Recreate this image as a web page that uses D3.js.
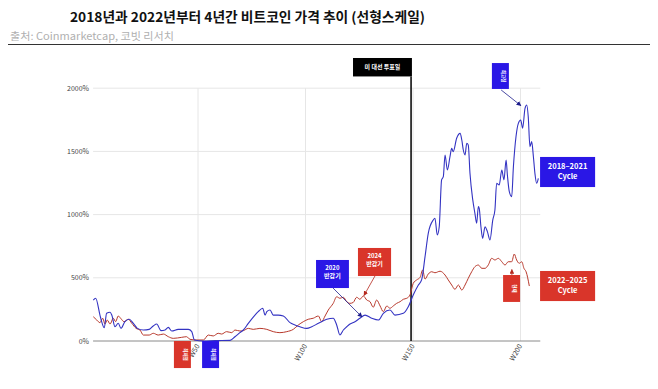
<!DOCTYPE html>
<html>
<head>
<meta charset="utf-8">
<script src="https://cdn.jsdelivr.net/npm/d3@7"></script>
<style>
  html,body{margin:0;padding:0;background:#fff;}
  svg text{font-family:"Noto Sans CJK KR","Noto Sans",Arial,sans-serif;}
</style>
</head>
<body>
<div id="chart"></div>
<script>
// weeks since cycle low reference (W), price change in %
const yTicks = [0, 500, 1000, 1500, 2000];
const xTicks = [50, 100, 150, 200];

// 2018-2021 cycle (blue)
const cycle2018 = [
  [1.3,324],[2.4,338],[4.4,205],[5.2,153],[6.4,105],[7.5,219],[9.1,227],[9.9,205],[11.4,113],[12.9,140],
  [14.2,100],[16,153],[18,172],[19.9,140],[21.8,100],[24.6,87],[27.3,92],[29.2,119],[30.8,134],[32.8,82],
  [34.7,87],[36.2,108],[37.8,79],[40.8,92],[45.5,92],[47.1,74],[48.3,8],[52.5,0],[58,3],[64.9,5],
  [67.2,34],[69.5,66],[71.1,87],[73.4,140],[76.5,205],[78,232],[80.1,259],[81.2,205],[82,232],[83.5,245],
  [85,205],[87.3,205],[89.7,198],[92.8,145],[95.1,127],[97.4,113],[100.6,100],[102.9,113],[106,140],[109.9,172],
  [112.9,180],[114.5,127],[116,47],[117.6,87],[119.2,113],[120.7,134],[123,153],[125.3,180],[127.7,205],[130.8,180],
  [133.9,166],[136.2,219],[139.3,245],[141.6,205],[145.5,219],[147.8,271],[150.1,364],[152.5,443],[154,483],[155.6,667],
  [157.1,852],[159.4,957],[160.2,971],[161.3,839],[162.2,904],[163.3,1274],[164.1,1300],[164.9,1472],[166,1353],[167.2,1458],
  [168,1524],[168.7,1498],[170.3,1604],[171.9,1643],[172.7,1590],[173.4,1511],[174.2,1472],[175,1564],[175.7,1551],[176.5,1327],
  [177.8,1116],[178.8,1010],[179.6,931],[180.4,1063],[180.8,1050],[181.6,904],[182.4,812],[183.5,904],[184.6,865],[185.8,799],
  [187.1,957],[188.1,1036],[188.9,1248],[190.1,1234],[191.3,1353],[192.3,1274],[193.3,1432],[193.9,1313],[194.8,1181],[195.9,1142],
  [196.7,1379],[197.9,1616],[199,1722],[200.1,1748],[201,1683],[202.1,1841],[202.9,1867],[203.6,1775],[204.4,1537],[205.2,1577],
  [206,1458],[206.7,1327],[207.5,1248],[208.3,1287]
];

// 2022-2025 cycle (red)
const cycle2022 = [
  [1.3,192],[2.9,166],[4.4,145],[5.7,180],[6.7,134],[7.8,166],[9.1,134],[10.6,180],[11.7,153],[12.9,198],
  [14,180],[15.6,153],[17.6,172],[19.2,140],[21.2,100],[23,87],[24.6,47],[27.3,47],[29.2,61],[31.5,47],
  [33.9,55],[36.2,34],[38.5,21],[42.4,29],[44.7,34],[46.3,13],[49.4,8],[52.5,8],[54.8,47],[57.1,40],
  [59.4,61],[61,55],[63.3,74],[65.7,66],[67.2,87],[69.5,79],[71.1,82],[73.4,100],[75.7,92],[78.8,100],
  [82,92],[85,74],[88.1,66],[91.3,74],[94.3,92],[96.7,127],[99,153],[101.3,172],[103.6,180],[106,198],
  [107.5,153],[109.1,198],[110.6,245],[112.9,298],[114.5,350],[116,338],[117.6,346],[119.2,311],[120.7,298],[122.2,305],
  [123.8,346],[125.3,330],[126.9,356],[128.5,324],[130,311],[131.5,267],[133.1,324],[134.7,277],[136.2,232],[137.8,277],
  [139.3,259],[140.8,277],[142.4,298],[144,311],[145.5,330],[147.1,338],[148.6,364],[150.1,456],[151.7,483],[153.3,504],
  [154.5,562],[155.6,490],[157.1,530],[158.7,548],[160.2,540],[162.6,552],[164.9,522],[166.4,483],[168,443],[169.5,409],
  [171.1,443],[172.7,403],[174.2,443],[175.7,496],[177.3,548],[178.8,588],[180.4,601],[182,575],[183.5,575],[185,601],
  [186.6,654],[188.1,641],[189.7,654],[191.3,627],[192.8,601],[194.3,627],[195.9,627],[197.1,688],[198.2,641],[199.4,615],
  [200.6,627],[201.6,575],[202.6,548],[204.1,435]
];

const electionWeek = 149.1;

const BLUE = '#3333c2', RED = '#b8392c';
const BOX_BLUE = '#2a17e6', BOX_RED = '#d9352a';

(function(){
  const W = 658, H = 389;
  const svg = d3.select('#chart').append('svg').attr('width', W).attr('height', H);

  // header
  svg.append('text').attr('x', 70).attr('y', 22)
    .attr('font-size', 13.5).attr('font-weight', 700).attr('fill', '#111')
    .attr('textLength', 355).attr('lengthAdjust', 'spacingAndGlyphs')
    .text('2018년과 2022년부터 4년간 비트코인 가격 추이 (선형스케일)');
  svg.append('text').attr('x', 10).attr('y', 40)
    .attr('font-size', 10).attr('fill', '#b0b0b0')
    .attr('textLength', 164).attr('lengthAdjust', 'spacingAndGlyphs')
    .text('출처: Coinmarketcap, 코빗 리서치');
  svg.append('line').attr('x1', 8).attr('x2', 650).attr('y1', 44.5).attr('y2', 44.5)
    .attr('stroke', '#333').attr('stroke-width', 1);

  const x = d3.scaleLinear().domain([0, 200]).range([90.5, 520.5]);
  const y = d3.scaleLinear().domain([0, 2000]).range([341, 88.2]);
  const x0 = x(1.2), x1 = x(209.2);

  // grid
  const g = svg.append('g');
  g.selectAll('.hg').data(yTicks.filter(d => d > 0)).enter().append('line')
    .attr('x1', x0).attr('x2', x1).attr('y1', d => y(d)).attr('y2', d => y(d))
    .attr('stroke', '#e6e6e6').attr('stroke-width', 1);
  g.selectAll('.vg').data(xTicks).enter().append('line')
    .attr('x1', d => x(d)).attr('x2', d => x(d)).attr('y1', y(2000)).attr('y2', y(0))
    .attr('stroke', '#e6e6e6').attr('stroke-width', 1);

  // y labels
  g.selectAll('.yl').data(yTicks).enter().append('text')
    .attr('x', 89).attr('y', d => y(d) + 2.5).attr('text-anchor', 'end')
    .attr('font-size', 7).attr('fill', '#444').attr('font-family', 'Arial, sans-serif')
    .text(d => d + '%');

  // x labels
  g.selectAll('.xl').data(xTicks).enter().append('text')
    .attr('transform', d => `translate(${x(d) + 2},${y(0) + 5}) rotate(-60)`)
    .attr('text-anchor', 'end').attr('font-size', 7).attr('fill', '#444')
    .attr('font-family', 'Arial, sans-serif')
    .text(d => 'W' + d);

  // zero axis
  g.append('line').attr('x1', x0).attr('x2', x1).attr('y1', y(0)).attr('y2', y(0))
    .attr('stroke', '#8a8a8a').attr('stroke-width', 1);

  // election line
  g.append('line').attr('x1', x(electionWeek)).attr('x2', x(electionWeek))
    .attr('y1', y(2093)).attr('y2', y(0))
    .attr('stroke', '#111').attr('stroke-width', 1.6);

  const line = d3.line().x(d => x(d[0])).y(d => y(d[1])).curve(d3.curveMonotoneX);
  g.append('path').datum(cycle2022).attr('fill', 'none').attr('stroke', RED)
    .attr('stroke-width', 1).attr('d', line);
  g.append('path').datum(cycle2018).attr('fill', 'none').attr('stroke', BLUE)
    .attr('stroke-width', 1.1).attr('d', line);

  // arrow markers
  const defs = svg.append('defs');
  [['ab', '#1d1d8c'], ['ar', '#b52a20']].forEach(([id, c]) => {
    defs.append('marker').attr('id', id).attr('viewBox', '0 0 10 10').attr('refX', 9).attr('refY', 5)
      .attr('markerWidth', 6).attr('markerHeight', 6).attr('orient', 'auto')
      .append('path').attr('d', 'M0,0L10,5L0,10z').attr('fill', c);
  });

  // annotation boxes in data units: [w0, w1, vTop, vBottom]
  function box(w0, w1, vt, vb, fill){
    return g.append('rect').attr('x', x(w0)).attr('y', y(vt))
      .attr('width', x(w1) - x(w0)).attr('height', y(vb) - y(vt)).attr('fill', fill);
  }
  function label(wx, vy, lines, size){
    lines.forEach((l, i) => g.append('text').attr('x', x(wx)).attr('y', y(vy) + i * size * 1.35)
      .attr('text-anchor', 'middle').attr('fill', '#fff')
      .attr('font-size', size).attr('font-weight', 700).text(l));
  }
  function vlabel(w0, w1, vt, vb, txt){
    const cx = (x(w0) + x(w1)) / 2, cy = (y(vt) + y(vb)) / 2;
    g.append('text').attr('transform', `translate(${cx + 1.5},${cy}) rotate(90)`)
      .attr('text-anchor', 'middle').attr('font-size', 4.5).attr('font-weight', 700)
      .attr('fill', '#fff').text(txt);
  }
  function arrow(wa, va, wb, vb, id, c){
    g.append('line').attr('x1', x(wa)).attr('y1', y(va)).attr('x2', x(wb)).attr('y2', y(vb))
      .attr('stroke', c).attr('stroke-width', 0.8).attr('marker-end', `url(#${id})`);
  }

  // election
  box(122.1, 149.5, 2239, 2093, '#000');
  label(135.8, 2150, ['미 대선 투표일'], 6);

  // peak
  box(186.7, 194.6, 2199, 1994, BOX_BLUE);
  vlabel(186.7, 194.6, 2199, 1994, '최고점');
  arrow(191, 1986, 200.2, 1862, 'ab', '#1d1d8c');

  // cycle labels
  box(209.1, 234.7, 1456, 1218, BOX_BLUE);
  label(221.9, 1362, ['2018–2021', 'Cycle'], 7.5);
  box(209.1, 234.7, 554, 316, BOX_RED);
  label(221.9, 460, ['2022–2025', 'Cycle'], 7.5);

  // current
  box(191.9, 199.8, 522, 309, BOX_RED);
  vlabel(191.9, 199.8, 522, 309, '현재');
  arrow(196, 522, 196, 566, 'ar', '#b52a20');

  // halvings
  box(104.9, 120.2, 641, 419, BOX_BLUE);
  label(112.5, 560, ['2020', '반감기'], 6);
  arrow(112.8, 419, 126.3, 190, 'ab', '#1d1d8c');
  box(124.4, 139.8, 736, 514, BOX_RED);
  label(132.1, 655, ['2024', '반감기'], 6);
  arrow(132.3, 514, 127.2, 360, 'ar', '#b52a20');

  // bottoms
  box(38.8, 46.7, 0, -214, BOX_RED);
  vlabel(38.8, 46.7, 0, -214, '최저점');
  box(51.9, 59.8, 0, -214, BOX_BLUE);
  vlabel(51.9, 59.8, 0, -214, '최저점');
})();
</script>
</body>
</html>
